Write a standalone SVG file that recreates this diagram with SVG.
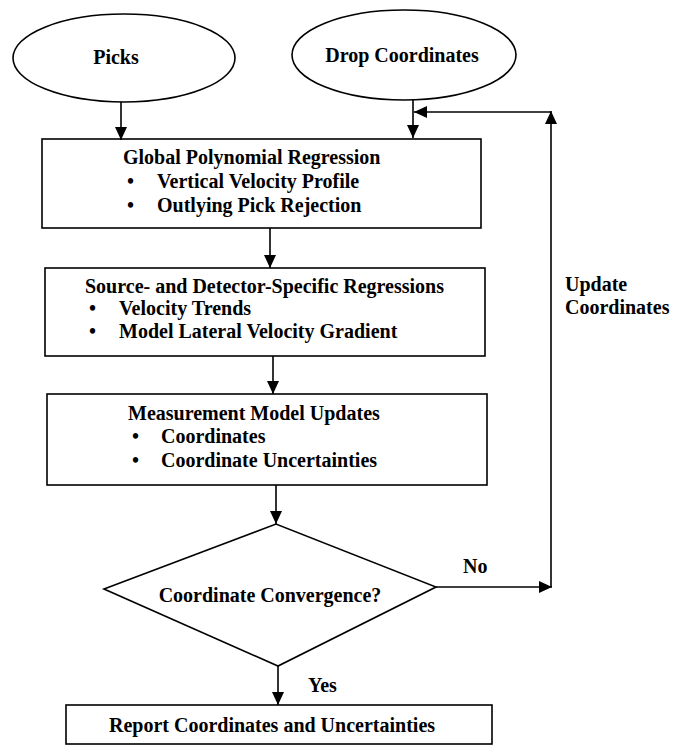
<svg xmlns="http://www.w3.org/2000/svg" width="682" height="747" viewBox="0 0 682 747">
<defs>
<style>
.shape{fill:#fff;stroke:#000;stroke-width:1.6}
.t{font-family:"Liberation Serif","Times New Roman",serif;font-weight:bold;font-size:20px;fill:#000}
.c{stroke:#000;stroke-width:1.6;fill:none}
</style>
<marker id="ah" markerUnits="userSpaceOnUse" markerWidth="14" markerHeight="12" refX="13" refY="6" orient="auto">
<path d="M0,0 L13,6 L0,12 Z" fill="#000"/>
</marker>
</defs>
<rect width="682" height="747" fill="#fff"/>
<g id="picks">
<ellipse class="shape" cx="124" cy="58" rx="111" ry="44"/>
<text class="t" x="116" y="64" text-anchor="middle">Picks</text>
</g>
<g id="drop">
<ellipse class="shape" cx="404" cy="55" rx="112" ry="45"/>
<text class="t" x="402" y="62" text-anchor="middle">Drop Coordinates</text>
</g>
<g id="global">
<rect class="shape" x="42" y="139" width="439" height="89"/>
<text class="t" x="123" y="164">Global Polynomial Regression</text>
<text class="t" x="127" y="188">•</text>
<text class="t" x="157" y="188">Vertical Velocity Profile</text>
<text class="t" x="127" y="212">•</text>
<text class="t" x="157" y="212">Outlying Pick Rejection</text>
</g>
<g id="specific">
<rect class="shape" x="45" y="268" width="440" height="88"/>
<text class="t" x="85" y="293">Source- and Detector-Specific Regressions</text>
<text class="t" x="89" y="315">•</text>
<text class="t" x="119" y="315">Velocity Trends</text>
<text class="t" x="89" y="338">•</text>
<text class="t" x="119" y="338">Model Lateral Velocity Gradient</text>
</g>
<g id="measurement">
<rect class="shape" x="47" y="394" width="440" height="91"/>
<text class="t" x="128" y="420">Measurement Model Updates</text>
<text class="t" x="132" y="443">•</text>
<text class="t" x="161" y="443">Coordinates</text>
<text class="t" x="132" y="467">•</text>
<text class="t" x="161" y="467">Coordinate Uncertainties</text>
</g>
<g id="convergence">
<polygon class="shape" points="104,589 276,524 436,587 278,666"/>
<text class="t" x="270" y="602" text-anchor="middle">Coordinate Convergence?</text>
</g>
<g id="report">
<rect class="shape" x="66" y="705" width="426" height="39"/>
<text class="t" x="272" y="732" text-anchor="middle">Report Coordinates and Uncertainties</text>
</g>
<g id="connectors">
<line class="c" x1="121" y1="102" x2="121" y2="140" marker-end="url(#ah)"/>
<line class="c" x1="413" y1="100" x2="413" y2="138" marker-end="url(#ah)"/>
<line class="c" x1="270" y1="228" x2="270" y2="268" marker-end="url(#ah)"/>
<line class="c" x1="273" y1="356" x2="273" y2="394" marker-end="url(#ah)"/>
<line class="c" x1="276" y1="485" x2="276" y2="524" marker-end="url(#ah)"/>
<line class="c" x1="278" y1="666" x2="278" y2="705" marker-end="url(#ah)"/>
<line class="c" x1="436" y1="587" x2="552" y2="587" marker-end="url(#ah)"/>
<line class="c" x1="551" y1="587" x2="551" y2="111" marker-end="url(#ah)"/>
<line class="c" x1="551" y1="112" x2="414" y2="112" marker-end="url(#ah)"/>
<text class="t" x="463" y="573">No</text>
<text class="t" x="308" y="692">Yes</text>
<text class="t" x="565" y="291">Update</text>
<text class="t" x="565" y="314">Coordinates</text>
</g>
</svg>
